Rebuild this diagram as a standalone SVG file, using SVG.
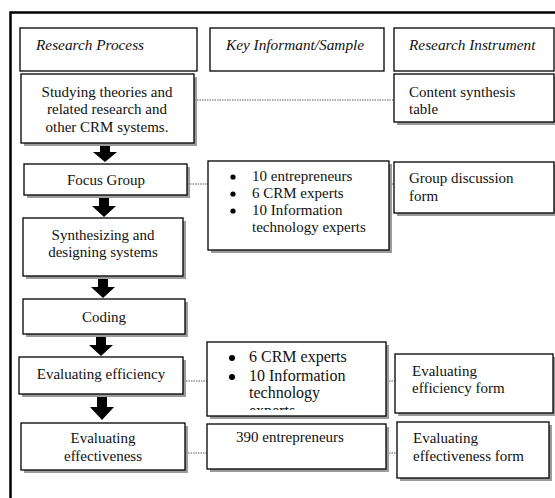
<svg xmlns="http://www.w3.org/2000/svg" width="555" height="498" viewBox="0 0 555 498">
  <style>
    .frame { fill: none; stroke: #000; stroke-width: 2.5; }
    .box { fill: #fff; stroke: #000; stroke-width: 1.3; }
    .shadow { fill: #9c9c9c; }
    .hdr { font-family: "Liberation Serif", "Times New Roman", serif; font-style: italic; font-size: 15.3px; fill: #111; }
    .t { font-family: "Liberation Serif", "Times New Roman", serif; font-size: 15px; fill: #111; }
    .tl { font-family: "Liberation Serif", "Times New Roman", serif; font-size: 16px; fill: #111; }
    .c { text-anchor: middle; }
    .dot { stroke: #333; stroke-width: 0.8; stroke-dasharray: 1.5 1; fill: none; }
    .arrow { fill: #000; }
    .bullet { fill: #000; }
  </style>
  <defs>
    <clipPath id="clipKey2">
      <rect x="207" y="342" width="179" height="68"/>
    </clipPath>
  </defs>

  <rect width="555" height="498" fill="#fff"/>
  <!-- outer frame -->
  <rect class="frame" x="10.5" y="12.5" width="560" height="500"/>

  <!-- column headers -->
  <g id="hdr-process">
    <rect class="box" x="20" y="28" width="177" height="43"/>
    <text class="hdr" x="36" y="50">Research Process</text>
  </g>
  <g id="hdr-sample">
    <rect class="box" x="210" y="28" width="174" height="43"/>
    <text class="hdr" x="226" y="50">Key Informant/Sample</text>
  </g>
  <g id="hdr-instrument">
    <rect class="box" x="394" y="28" width="160" height="43"/>
    <text class="hdr" x="409" y="50">Research Instrument</text>
  </g>

  <!-- connectors -->
  <g id="connectors">
    <path class="dot" d="M197 100 H394"/>
    <path class="dot" d="M190 184 H208 M392 184 H394"/>
    <path class="dot" d="M186 381 H207 M389 381 H395"/>
    <path class="dot" d="M188 453 H207 M389 453 H397"/>
    <path class="arrow" d="M100 143 H110 V152 H117 L105 162 L93 152 H100 Z"/>
    <path class="arrow" d="M99 196 H109 V206 H116 L104 217 L92 206 H99 Z"/>
    <path class="arrow" d="M98 277 H108 V287 H115 L103 298 L91 287 H98 Z"/>
    <path class="arrow" d="M96 335 H106 V345 H113 L101 356 L89 345 H96 Z"/>
    <path class="arrow" d="M97 395 H107 V407 H114 L102 420 L90 407 H97 Z"/>
  </g>

  <!-- process column -->
  <g id="studying">
    <rect class="shadow" x="24" y="77" width="173" height="69"/>
    <rect class="box" x="21" y="74" width="173" height="69"/>
    <text class="t c" x="107" y="97">Studying theories and</text>
    <text class="t c" x="107" y="114">related research and</text>
    <text class="t c" x="107" y="132">other CRM systems.</text>
  </g>
  <g id="focus-group">
    <rect class="shadow" x="27" y="167" width="163" height="31"/>
    <rect class="box" x="24" y="164" width="163" height="31"/>
    <text class="t c" x="106" y="185">Focus Group</text>
  </g>
  <g id="synthesizing">
    <rect class="shadow" x="26" y="221" width="160" height="58"/>
    <rect class="box" x="23" y="218" width="160" height="58"/>
    <text class="t c" x="103" y="240">Synthesizing and</text>
    <text class="t c" x="103" y="257">designing systems</text>
  </g>
  <g id="coding">
    <rect class="shadow" x="26" y="302" width="162" height="35"/>
    <rect class="box" x="23" y="299" width="162" height="35"/>
    <text class="t c" x="104" y="322">Coding</text>
  </g>
  <g id="eval-efficiency">
    <rect class="shadow" x="22" y="360" width="164" height="37"/>
    <rect class="box" x="19" y="357" width="164" height="37"/>
    <text class="t c" x="101" y="379">Evaluating efficiency</text>
  </g>
  <g id="eval-effectiveness">
    <rect class="shadow" x="24" y="426" width="164" height="47"/>
    <rect class="box" x="21" y="423" width="164" height="47"/>
    <text class="t c" x="103" y="443">Evaluating</text>
    <text class="t c" x="103" y="461">effectiveness</text>
  </g>

  <!-- sample column -->
  <g id="sample-focus">
    <rect class="shadow" x="211" y="164" width="181" height="89"/>
    <rect class="box" x="208" y="161" width="181" height="89"/>
    <circle class="bullet" cx="233" cy="177" r="2.6"/>
    <text class="t" x="252" y="181">10 entrepreneurs</text>
    <circle class="bullet" cx="233" cy="194" r="2.6"/>
    <text class="t" x="252" y="198">6 CRM experts</text>
    <circle class="bullet" cx="233" cy="211" r="2.6"/>
    <text class="t" x="252" y="215">10 Information</text>
    <text class="t" x="252" y="232">technology experts</text>
  </g>
  <g id="sample-efficiency">
    <rect class="shadow" x="210" y="345" width="179" height="74"/>
    <rect class="box" x="207" y="342" width="179" height="74"/>
    <g clip-path="url(#clipKey2)">
      <circle class="bullet" cx="232" cy="358" r="3"/>
      <text class="tl" x="249" y="362">6 CRM experts</text>
      <circle class="bullet" cx="232" cy="377" r="3"/>
      <text class="tl" x="249" y="381">10 Information</text>
      <text class="tl" x="249" y="398">technology</text>
      <text class="tl" x="249" y="416">experts</text>
    </g>
  </g>
  <g id="sample-effectiveness">
    <rect class="shadow" x="210" y="427" width="179" height="45"/>
    <rect class="box" x="207" y="424" width="179" height="45"/>
    <text class="t" x="236" y="442">390 entrepreneurs</text>
  </g>

  <!-- instrument column -->
  <g id="inst-content">
    <rect class="shadow" x="397" y="77" width="160" height="48"/>
    <rect class="box" x="394" y="74" width="160" height="48"/>
    <text class="t" x="409" y="97">Content synthesis</text>
    <text class="t" x="409" y="114">table</text>
  </g>
  <g id="inst-group">
    <rect class="shadow" x="397" y="165" width="160" height="51"/>
    <rect class="box" x="394" y="162" width="160" height="51"/>
    <text class="t" x="409" y="183">Group discussion</text>
    <text class="t" x="409" y="201">form</text>
  </g>
  <g id="inst-efficiency">
    <rect class="shadow" x="398" y="357" width="158" height="59"/>
    <rect class="box" x="395" y="354" width="158" height="59"/>
    <text class="t" x="412" y="376">Evaluating</text>
    <text class="t" x="412" y="393">efficiency form</text>
  </g>
  <g id="inst-effectiveness">
    <rect class="shadow" x="400" y="425" width="152" height="56"/>
    <rect class="box" x="397" y="422" width="152" height="56"/>
    <text class="t" x="413" y="443">Evaluating</text>
    <text class="t" x="413" y="461">effectiveness form</text>
  </g>
</svg>
